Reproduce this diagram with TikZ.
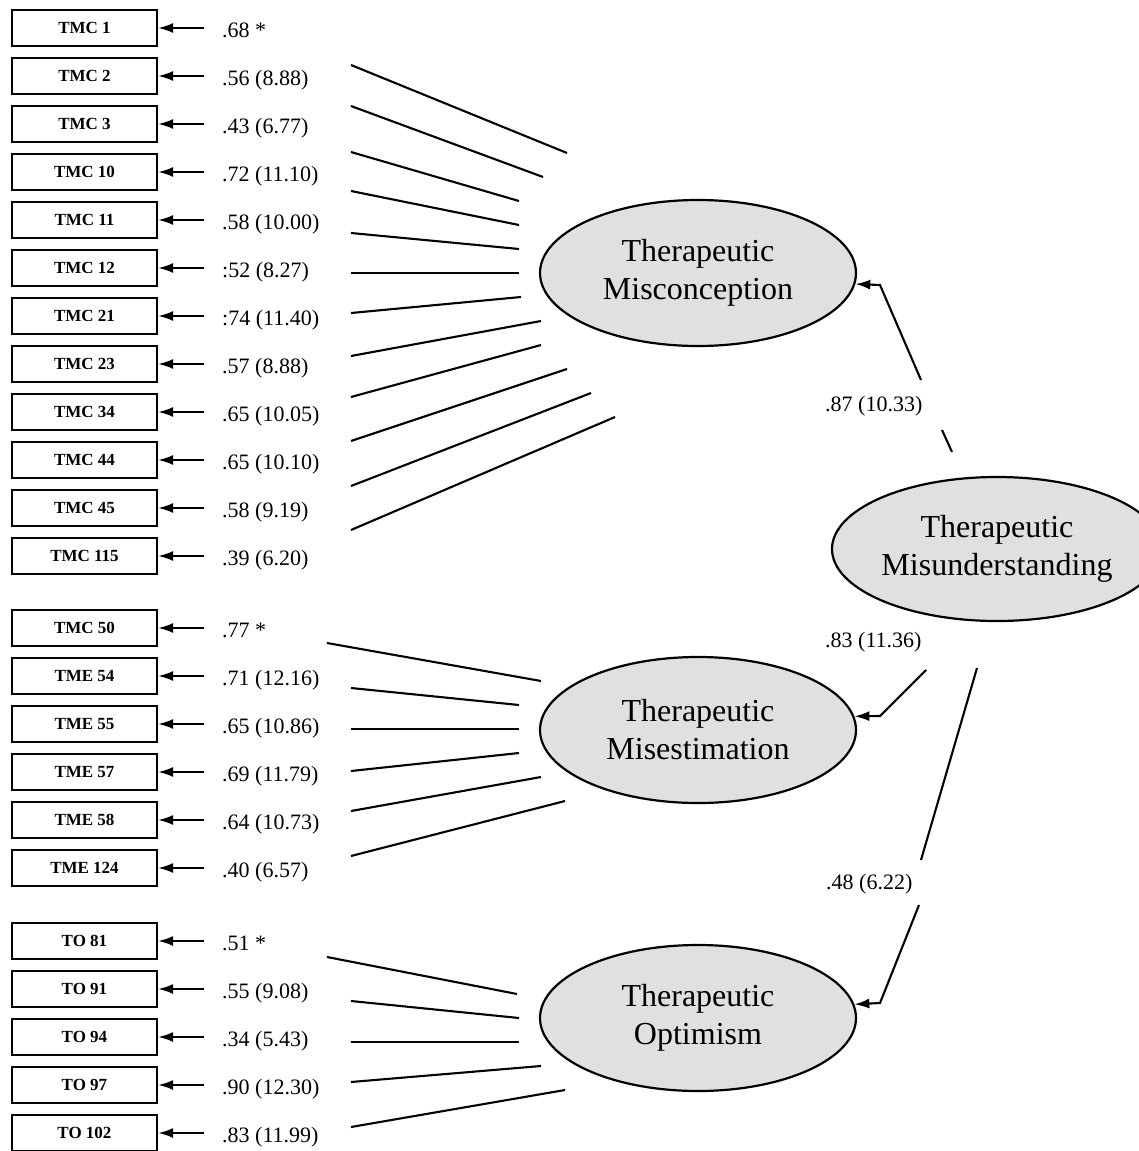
\documentclass[tikz,border=0pt]{standalone}
\usepackage{fontspec}
\setmainfont{Liberation Serif}
\usetikzlibrary{shapes.geometric,arrows.meta}
\begin{document}
\begin{tikzpicture}[x=1pt,y=-1pt,
  ind/.style={draw, line width=2.2pt, minimum width=145pt, minimum height=36pt, inner sep=0pt,
    font=\fontsize{17}{19}\selectfont\bfseries},
  lab/.style={anchor=west, inner sep=0pt, font=\fontsize{22}{26}\selectfont, text height=15pt, text depth=4pt},
  latent/.style={ellipse, draw, line width=2.2pt, fill=black!12, minimum width=316pt, minimum height=146pt,
    inner sep=0pt, align=center, font=\fontsize{32}{38}\selectfont},
  load/.style={line width=2.1pt},
  arr/.style={line width=2.1pt, -{Latex[length=15pt,width=10pt]}},
]
\useasboundingbox (0,0) rectangle (1139,1151);

% latent factors
\node[latent] (F1) at (698,273) {Therapeutic\\Misconception};
\node[latent] (F2) at (698,730) {Therapeutic\\Misestimation};
\node[latent] (F3) at (698,1018) {Therapeutic\\Optimism};
\node[latent, minimum width=330pt, minimum height=144pt] (F4) at (997,549) {Therapeutic\\Misunderstanding};

% group 1
\foreach \i/\nm/\v/\sx/\sy/\ex/\ey in {
  0/TMC 1/.68 */351/65/567/153,
  1/TMC 2/.56 (8.88)/351/106/543/177,
  2/TMC 3/.43 (6.77)/351/152/519/201,
  3/TMC 10/.72 (11.10)/351/191/519/225,
  4/TMC 11/.58 (10.00)/351/233/519/249,
  5/TMC 12/:52 (8.27)/351/273/519/273,
  6/TMC 21/:74 (11.40)/351/313/521/297,
  7/TMC 23/.57 (8.88)/351/356/541/321,
  8/TMC 34/.65 (10.05)/351/397/541/345,
  9/TMC 44/.65 (10.10)/351/441/567/369,
  10/TMC 45/.58 (9.19)/351/486/591/393,
  11/TMC 115/.39 (6.20)/351/530/615/417}{
  \node[ind] (a\i) at (84.5,{28+48*\i}) {\nm};
  \node[lab] (la\i) at (222,{32+48*\i}) {\v};
  \draw[arr] ([xshift=46pt]a\i.east) -- (a\i.east);
  \coordinate (sa\i) at (\sx,\sy);
  \coordinate (ea\i) at (\ex,\ey);
  \draw[load] (ea\i) -- (sa\i);
}

% group 2
\foreach \i/\nm/\v/\sx/\sy/\ex/\ey in {
  0/TMC 50/.77 */327/643/541/681,
  1/TME 54/.71 (12.16)/351/688/519/705,
  2/TME 55/.65 (10.86)/351/729/519/729,
  3/TME 57/.69 (11.79)/351/771/519/753,
  4/TME 58/.64 (10.73)/351/811/541/777,
  5/TME 124/.40 (6.57)/351/856/565/801}{
  \node[ind] (b\i) at (84.5,{628+48*\i}) {\nm};
  \node[lab] (lb\i) at (222,{632+48*\i}) {\v};
  \draw[arr] ([xshift=46pt]b\i.east) -- (b\i.east);
  \coordinate (sb\i) at (\sx,\sy);
  \coordinate (eb\i) at (\ex,\ey);
  \draw[load] (eb\i) -- (sb\i);
}

% group 3
\foreach \i/\nm/\v/\sx/\sy/\ex/\ey in {
  0/TO 81/.51 */327/957/517/994,
  1/TO 91/.55 (9.08)/351/1001/519/1018,
  2/TO 94/.34 (5.43)/351/1042/519/1042,
  3/TO 97/.90 (12.30)/351/1082/541/1066,
  4/TO 102/.83 (11.99)/351/1127/565/1090}{
  \node[ind] (c\i) at (84.5,{941+48*\i}) {\nm};
  \node[lab] (lc\i) at (222,{945+48*\i}) {\v};
  \draw[arr] ([xshift=46pt]c\i.east) -- (c\i.east);
  \coordinate (sc\i) at (\sx,\sy);
  \coordinate (ec\i) at (\ex,\ey);
  \draw[load] (ec\i) -- (sc\i);
}

% structural paths
\coordinate (p1a) at (952,452);
\coordinate (p1b) at (942,430);
\coordinate (p1c) at (921,380);
\coordinate (p1d) at (880,285);
\draw[load] (p1a) -- (p1b);
\draw[arr] (p1c) -- (p1d) -- (F1.-4.4);
\node[lab] (s1) at (825,406) {.87 (10.33)};

\coordinate (p2a) at (926,670);
\coordinate (p2b) at (880,716);
\draw[arr] (p2a) -- (p2b) -- (F2.5);
\node[lab] (s2) at (825,642) {.83 (11.36)};

\coordinate (p3a) at (977,668);
\coordinate (p3b) at (921,860);
\coordinate (p3c) at (919,905);
\coordinate (p3d) at (880,1003);
\draw[load] (p3a) -- (p3b);
\draw[arr] (p3c) -- (p3d) -- (F3.5.5);
\node[lab] (s3) at (826,884) {.48 (6.22)};
\end{tikzpicture}
\end{document}
